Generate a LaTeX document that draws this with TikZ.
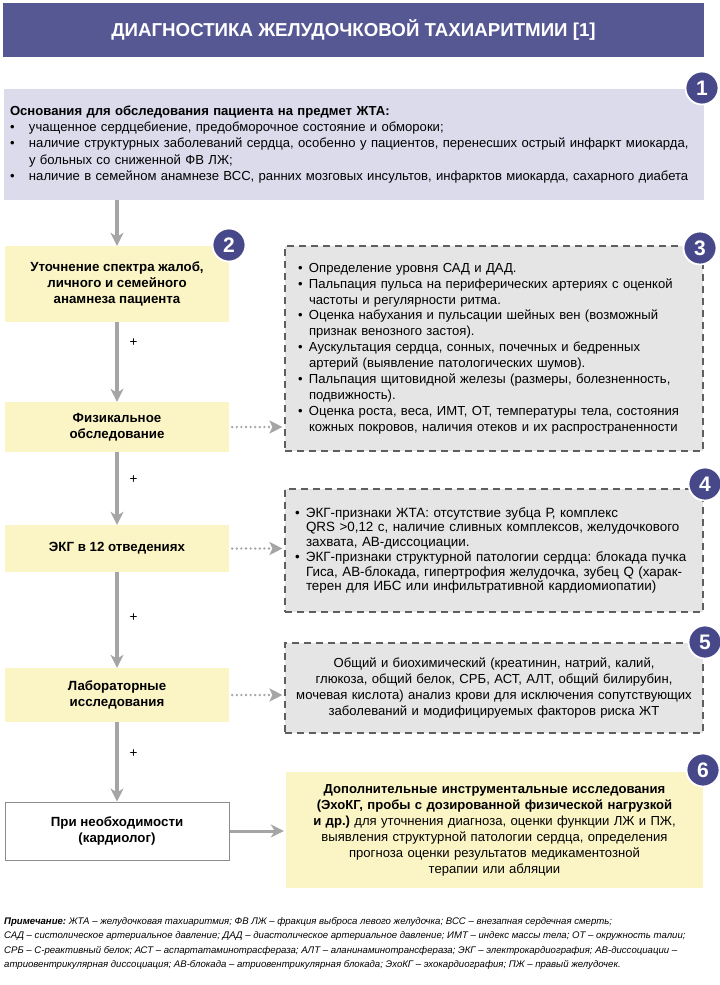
\documentclass[tikz,border=0pt]{standalone}
\usepackage{fontspec}
\setmainfont{Liberation Sans}
\usetikzlibrary{arrows.meta}

\definecolor{headblue}{RGB}{86,88,148}
\definecolor{numblue}{RGB}{70,72,138}
\definecolor{lilac}{RGB}{220,219,236}
\definecolor{paleyellow}{RGB}{251,245,198}
\definecolor{palegray}{RGB}{229,229,229}
\definecolor{dashgray}{RGB}{95,95,95}
\definecolor{framegray}{RGB}{140,140,140}
\definecolor{arrowgray}{RGB}{165,165,165}

\newcommand{\bul}[1][11pt]{\makebox[#1][l]{•}}
\newcommand{\ind}[1][11pt]{\hspace*{#1}}

\frenchspacing
\begin{document}
\begin{tikzpicture}[x=1pt,y=-1pt,
    stepbox/.style={fill=paleyellow, minimum width=224pt, inner sep=0pt, align=center,
        font=\fontsize{13.3}{15.8}\selectfont\bfseries},
    notebox/.style={fill=palegray, draw=dashgray, line width=1.1pt, dash pattern=on 7pt off 5pt,
        minimum width=418pt, inner sep=0pt},
    num/.style={circle, fill=numblue, draw=white, line width=1.8pt, minimum size=33pt, inner sep=0pt,
        text=white, font=\fontsize{21}{21}\selectfont\bfseries},
    flow/.style={draw=arrowgray, line width=3.4pt, -{Stealth[length=13pt,width=13pt,inset=4pt]}},
    dotflow/.style={draw=arrowgray, line width=2.6pt, line cap=round, dash pattern=on 0pt off 4.6pt,
        shorten <=3pt, shorten >=2pt, -{Stealth[length=13pt,width=13pt,inset=3pt]}},
    plus/.style={anchor=west, xshift=11pt, inner sep=0pt, font=\fontsize{13.5}{13.5}\selectfont}]

    \useasboundingbox (0,0) rectangle (720,985);

    % Header
    \node[fill=headblue, minimum width=701pt, minimum height=54pt, inner sep=0pt, text=white,
        font=\fontsize{18.7}{18.7}\selectfont\bfseries] (title) at (353.5,30)
        {ДИАГНОСТИКА ЖЕЛУДОЧКОВОЙ ТАХИАРИТМИИ [1]};

    % Box 1 - grounds
    \node[fill=lilac, minimum width=700pt, minimum height=111pt, inner sep=0pt, text width=688pt,
        align=left, font=\fontsize{13.1}{16.3}\selectfont] (grounds) at (354,144.5)
        {\textbf{Основания для обследования пациента на предмет ЖТА:}\\
         \bul[19pt]учащенное сердцебиение, предобморочное состояние и обмороки;\\
         \bul[19pt]наличие структурных заболеваний сердца, особенно у пациентов, перенесших острый инфаркт миокарда,\\
         \ind[19pt]у больных со сниженной ФВ ЛЖ;\\
         \bul[19pt]наличие в семейном анамнезе ВСС, ранних мозговых инсультов, инфарктов миокарда, сахарного диабета};

    % Left column - main steps
    \node[stepbox, minimum height=76pt] (anam) at (117,284)
        {Уточнение спектра жалоб,\\ личного и семейного\\ анамнеза пациента};
    \node[stepbox, minimum height=50pt] (fiz) at (117,427) {Физикальное\\ обследование};
    \node[stepbox, minimum height=47pt] (ekg) at (117,548.5) {ЭКГ в 12 отведениях};
    \node[stepbox, minimum height=54pt] (lab) at (117,695) {Лабораторные\\ исследования};
    \node[stepbox, fill=white, draw=framegray, line width=1pt, minimum height=58pt] (prn) at (117,831)
        {При необходимости\\ (кардиолог)};

    % Right column - details
    \node[notebox, minimum height=205pt, text width=392pt, align=left,
        font=\fontsize{13.1}{15.9}\selectfont] (exam) at (494,348.5)
        {\bul Определение уровня САД и ДАД.\\
         \bul Пальпация пульса на периферических артериях с оценкой\\
         \ind частоты и регулярности ритма.\\
         \bul Оценка набухания и пульсации шейных вен (возможный\\
         \ind признак венозного застоя).\\
         \bul Аускультация сердца, сонных, почечных и бедренных\\
         \ind артерий (выявление патологических шумов).\\
         \bul Пальпация щитовидной железы (размеры, болезненность,\\
         \ind подвижность).\\
         \bul Оценка роста, веса, ИМТ, ОТ, температуры тела, состояния\\
         \ind кожных покровов, наличия отеков и их распространенности};
    \node[notebox, minimum height=123pt, text width=398pt, align=left,
        font=\fontsize{13.4}{14.7}\selectfont] (ecgsigns) at (494,550.5)
        {\bul ЭКГ-признаки ЖТА: отсутствие зубца Р, комплекс\\
         \ind QRS >0,12 с, наличие сливных комплексов, желудочкового\\
         \ind захвата, АВ-диссоциации.\\
         \bul ЭКГ-признаки структурной патологии сердца: блокада пучка\\
         \ind Гиса, АВ-блокада, гипертрофия желудочка, зубец Q (харак-\\
         \ind терен для ИБС или инфильтративной кардиомиопатии)};
    \node[notebox, minimum height=90pt, text width=410pt, align=center,
        font=\fontsize{13.1}{15.7}\selectfont] (labtests) at (494,688)
        {Общий и биохимический (креатинин, натрий, калий,\\
         глюкоза, общий белок, СРБ, АСТ, АЛТ, общий билирубин,\\
         мочевая кислота) анализ крови для исключения сопутствующих\\
         заболеваний и модифицируемых факторов риска ЖТ};
    \node[fill=paleyellow, minimum width=417pt, minimum height=116pt, inner sep=0pt, text width=405pt,
        align=center, font=\fontsize{13.1}{16}\selectfont] (instr) at (494.5,830)
        {\textbf{Дополнительные инструментальные исследования}\\
         \textbf{(ЭхоКГ, пробы с дозированной физической нагрузкой}\\
         \textbf{и др.)} для уточнения диагноза, оценки функции ЛЖ и ПЖ,\\
         выявления структурной патологии сердца, определения\\
         прогноза оценки результатов медикаментозной\\
         терапии или абляции};

    % Numbers
    \node[num] (n1) at (702,88) {1};
    \node[num] (n2) at (229,245) {2};
    \node[num] (n3) at (700,248) {3};
    \node[num] (n4) at (705,484) {4};
    \node[num] (n5) at (705,642) {5};
    \node[num] (n6) at (703,770) {6};

    % Arrows
    \draw[flow] (grounds.south -| anam.north) -- (anam.north);
    \draw[flow] (anam) -- node[plus, pos=.26] (p1) {+} (fiz);
    \draw[flow] (fiz) -- node[plus, pos=.38] (p2) {+} (ekg);
    \draw[flow] (ekg) -- node[plus, pos=.47] (p3) {+} (lab);
    \draw[flow] (lab) -- node[plus, pos=.39] (p4) {+} (prn);
    \draw[dotflow] (fiz.east) -- (fiz.east -| exam.west);
    \draw[dotflow] (ekg.east) -- (ekg.east -| ecgsigns.west);
    \draw[dotflow] (lab.east) -- (lab.east -| labtests.west);
    \draw[flow, line width=3pt, shorten >=2pt] (prn.east) -- (prn.east -| instr.west);

    % Footnote
    \node[anchor=west, inner sep=0pt, align=left, font=\fontsize{9.6}{14.3}\selectfont\itshape] (note) at (4,943.5)
        {\textbf{Примечание:} ЖТА – желудочковая тахиаритмия; ФВ ЛЖ – фракция выброса левого желудочка; ВСС – внезапная сердечная смерть;\\
         САД – систолическое артериальное давление; ДАД – диастолическое артериальное давление; ИМТ – индекс массы тела; ОТ – окружность талии;\\
         СРБ – С-реактивный белок; АСТ – аспартатаминотрасфераза; АЛТ – аланинаминотрансфераза; ЭКГ – электрокардиография; АВ-диссоциации –\\
         атриовентрикулярная диссоциация; АВ-блокада – атриовентрикулярная блокада; ЭхоКГ – эхокардиография; ПЖ – правый желудочек.};
\end{tikzpicture}
\end{document}
